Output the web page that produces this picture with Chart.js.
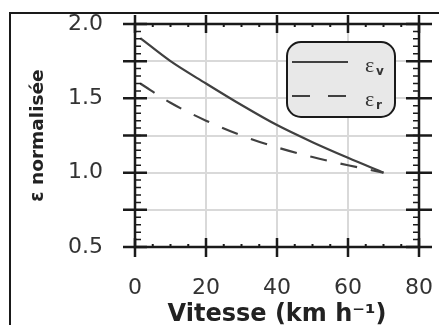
<!DOCTYPE html>
<html>
<head>
<meta charset="utf-8">
<script src="https://cdn.jsdelivr.net/npm/chart.js@4"></script>
<style>
  html, body { margin: 0; padding: 0; background: #fff; }
  canvas { display: block; }
</style>
</head>
<body>
<canvas id="chart" width="439" height="325"></canvas>
<script>
// values
const speeds = [1.5, 10, 20, 30, 40, 50, 60, 70];
const epsV = [1.905, 1.75, 1.60, 1.455, 1.32, 1.205, 1.10, 1.0];
const epsR = [1.60, 1.47, 1.35, 1.25, 1.17, 1.105, 1.05, 1.0];
const xTickLabels = ['0', '20', '40', '60', '80'];
const yTickLabels = ['0.5', '1.0', '1.5', '2.0'];
const seriesNames = ['v', 'r'];

const INK = '#1a1a1a';
const LINE = '#404040';

// frame, axes with major/minor ticks, legend box
const decorations = {
    id: 'decorations',
    afterDraw(chart) {
        const ctx = chart.ctx;
        const area = chart.chartArea;
        const xs = chart.scales.x, ys = chart.scales.y;
        ctx.save();

        // outer frame (only top/left visible in the crop)
        ctx.strokeStyle = INK;
        ctx.lineWidth = 2;
        ctx.beginPath();
        ctx.moveTo(10, 325);
        ctx.lineTo(10, 13);
        ctx.lineTo(439, 13);
        ctx.stroke();

        // plot box
        ctx.lineWidth = 2.5;
        ctx.strokeRect(area.left, area.top, area.right - area.left, area.bottom - area.top);

        // y ticks
        for (let v = 0.5; v <= 2.0001; v += 0.25) {
            const py = ys.getPixelForValue(v);
            ctx.beginPath();
            ctx.moveTo(area.left - 12, py); ctx.lineTo(area.left + 12, py);
            ctx.moveTo(area.right - 13, py); ctx.lineTo(area.right + 13, py);
            ctx.stroke();
        }
        ctx.lineWidth = 1.5;
        for (let v = 0.5; v <= 2.0001; v += 0.05) {
            const py = ys.getPixelForValue(v);
            ctx.beginPath();
            ctx.moveTo(area.left, py); ctx.lineTo(area.left + 6, py);
            ctx.moveTo(area.right - 6, py); ctx.lineTo(area.right, py);
            ctx.stroke();
        }
        // x ticks
        ctx.lineWidth = 2.5;
        for (let v = 0; v <= 80; v += 20) {
            const px = xs.getPixelForValue(v);
            ctx.beginPath();
            ctx.moveTo(px, area.bottom - 9); ctx.lineTo(px, area.bottom + 10);
            ctx.moveTo(px, area.top - 9); ctx.lineTo(px, area.top + 9);
            ctx.stroke();
        }
        ctx.lineWidth = 2;
        for (let v = 5; v < 80; v += 5) {
            if (v % 20 === 0) continue;
            const px = xs.getPixelForValue(v);
            ctx.beginPath();
            ctx.moveTo(px, area.bottom - 3); ctx.lineTo(px, area.bottom);
            ctx.moveTo(px, area.top); ctx.lineTo(px, area.top + 3);
            ctx.stroke();
        }

        // legend
        const bx = 287, by = 42, bw = 108, bh = 75, r = 14;
        ctx.beginPath();
        ctx.roundRect(bx, by, bw, bh, r);
        ctx.fillStyle = '#e8e8e8';
        ctx.fill();
        ctx.lineWidth = 2;
        ctx.strokeStyle = INK;
        ctx.stroke();

        chart.data.datasets.forEach((ds, i) => {
            const ly = i === 0 ? 62 : 96;
            ctx.strokeStyle = LINE;
            ctx.lineWidth = 2;
            ctx.setLineDash(i === 0 ? [] : [18, 18]);
            ctx.beginPath();
            ctx.moveTo(292, ly); ctx.lineTo(348, ly);
            ctx.stroke();
            ctx.setLineDash([]);
            ctx.fillStyle = '#333';
            ctx.textBaseline = 'alphabetic';
            ctx.textAlign = 'left';
            ctx.font = '22px "Liberation Serif"';
            ctx.fillText('ε', 365, ly + 10);
            ctx.font = 'bold 12px "DejaVu Sans"';
            ctx.fillText(seriesNames[i], 376, ly + 13);
        });
        ctx.restore();
    }
};

new Chart(document.getElementById('chart'), {
    type: 'line',
    data: {
        datasets: [
            {
                label: 'εv',
                data: speeds.map((s, i) => ({ x: s, y: epsV[i] })),
                borderColor: LINE,
                borderWidth: 2.2,
                pointRadius: 0,
                cubicInterpolationMode: 'monotone',
                fill: false
            },
            {
                label: 'εr',
                data: speeds.map((s, i) => ({ x: s, y: epsR[i] })),
                borderColor: LINE,
                borderWidth: 2.2,
                borderDash: [17, 14],
                pointRadius: 0,
                cubicInterpolationMode: 'monotone',
                fill: false
            }
        ]
    },
    options: {
        responsive: false,
        animation: false,
        devicePixelRatio: 1,
        layout: { padding: { left: 0, right: 20, top: 24, bottom: 0 } },
        plugins: {
            legend: { display: false },
            tooltip: { enabled: false }
        },
        scales: {
            x: {
                type: 'linear',
                min: 0,
                max: 80,
                afterFit: s => { s.height = 78; s.paddingLeft = 0; s.paddingRight = 0; },
                afterBuildTicks: s => { s.ticks = xTickLabels.map(t => ({ value: Number(t) })); },
                ticks: {
                    callback: v => xTickLabels.find(t => Number(t) === v) || '',
                    color: '#333',
                    padding: 28,
                    maxRotation: 0,
                    font: { family: 'DejaVu Sans', size: 22 }
                },
                grid: { color: '#d9d9d9', lineWidth: 2, drawTicks: false },
                border: { display: false },
                title: {
                    display: true,
                    text: 'Vitesse (km h⁻¹)',
                    color: '#222',
                    font: { family: 'DejaVu Sans', size: 24, weight: 'bold' },
                    padding: { top: 0, bottom: -4 }
                }
            },
            y: {
                min: 0.5,
                max: 2.0,
                afterFit: s => { s.width = 135; s.paddingTop = 0; s.paddingBottom = 0; },
                afterBuildTicks: s => {
                    const t = [];
                    for (let v = 0.5; v <= 2.0001; v += 0.25) t.push({ value: Math.round(v * 100) / 100 });
                    s.ticks = t;
                },
                ticks: {
                    callback: v => yTickLabels.find(t => Number(t) === v) || '',
                    color: '#333',
                    padding: 32,
                    font: { family: 'DejaVu Sans', size: 22 }
                },
                grid: { color: '#d9d9d9', lineWidth: 2, drawTicks: false },
                border: { display: false },
                title: {
                    display: true,
                    text: 'ε normalisée',
                    color: '#222',
                    font: { family: 'DejaVu Sans', size: 18.5, weight: 'bold' },
                    padding: { top: 27, bottom: 0 }
                }
            }
        }
    },
    plugins: [decorations]
});
</script>
</body>
</html>
